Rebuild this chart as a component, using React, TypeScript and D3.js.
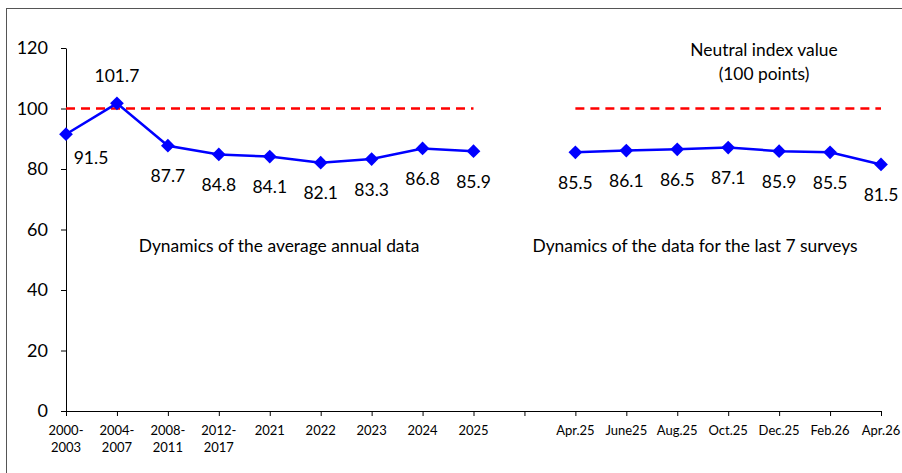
import React, { useEffect, useRef } from 'react';
import * as d3 from 'd3';

const annualLabels = ['2000-\n2003', '2004-\n2007', '2008-\n2011', '2012-\n2017', '2021', '2022', '2023', '2024', '2025'];
const annualValues = [91.5, 101.7, 87.7, 84.8, 84.1, 82.1, 83.3, 86.8, 85.9];
const surveyLabels = ['Apr.25', 'June25', 'Aug.25', 'Oct.25', 'Dec.25', 'Feb.26', 'Apr.26'];
const surveyValues = [85.5, 86.1, 86.5, 87.1, 85.9, 85.5, 81.5];
const yTicks = [0, 20, 40, 60, 80, 100, 120];
const neutralValue = 100;

const W = 902;
const H = 473;
const FONT = 'Lato, "Open Sans", sans-serif';

export default function App() {
  const svgRef = useRef<SVGSVGElement | null>(null);

  useEffect(() => {
    const svg = d3.select(svgRef.current);
    svg.selectAll('*').remove();

    // blank slot between the two groups
    const domain = [...annualLabels, ' ', ...surveyLabels];
    const x = d3.scalePoint<string>().domain(domain).range([66, 881]);
    const y = d3.scaleLinear().domain([0, 120]).range([411, 48]);

    // outer frame
    svg.append('rect')
      .attr('x', 6.5).attr('y', 8.5)
      .attr('width', W + 20).attr('height', H + 20)
      .attr('fill', 'none').attr('stroke', '#555').attr('stroke-width', 1);

    // y axis
    const yAxis = svg.append('g')
      .attr('transform', 'translate(66,0)')
      .call(d3.axisLeft(y).tickValues(yTicks).tickSize(5).tickPadding(13).tickSizeOuter(0));
    yAxis.select('.domain').attr('stroke', '#000');
    yAxis.selectAll('.tick line').attr('stroke', '#000');
    yAxis.selectAll('text')
      .attr('font-family', FONT).attr('font-size', 18).attr('fill', '#000');

    // x axis
    const xAxis = svg.append('g')
      .attr('transform', 'translate(0,411)')
      .call(d3.axisBottom(x).tickSize(5).tickSizeOuter(0).tickFormat(() => ''));
    xAxis.select('.domain').attr('stroke', '#000');
    xAxis.selectAll('.tick line').attr('stroke', '#000');
    xAxis.selectAll('.tick text').remove();

    const xl = svg.append('g')
      .attr('font-family', FONT).attr('font-size', 13).attr('fill', '#000')
      .attr('text-anchor', 'middle');
    domain.forEach(d => {
      const lines = d.split('\n');
      const t = xl.append('text').attr('x', x(d)!).attr('y', 435);
      lines.forEach((ln, i) => {
        t.append('tspan').attr('x', x(d)!).attr('dy', i === 0 ? 0 : 17).text(ln);
      });
    });

    // neutral lines
    const dash = (x1: number, x2: number) => svg.append('line')
      .attr('x1', x1).attr('x2', x2)
      .attr('y1', y(neutralValue)).attr('y2', y(neutralValue))
      .attr('stroke', '#ff0000').attr('stroke-width', 2.5)
      .attr('stroke-dasharray', '9,6');
    dash(x(annualLabels[0])!, x(annualLabels[annualLabels.length - 1])!);
    dash(x(surveyLabels[0])!, x(surveyLabels[surveyLabels.length - 1])!);

    const groups = [
      { labels: annualLabels, values: annualValues },
      { labels: surveyLabels, values: surveyValues },
    ];

    const line = d3.line<[string, number]>()
      .x(d => x(d[0])!)
      .y(d => y(d[1]));

    groups.forEach((g, gi) => {
      const pts: [string, number][] = g.labels.map((l, i) => [l, g.values[i]]);
      svg.append('path')
        .attr('d', line(pts)!)
        .attr('fill', 'none').attr('stroke', '#0000ff').attr('stroke-width', 2.5);
      svg.append('g').selectAll('path')
        .data(pts).join('path')
        .attr('d', d3.symbol().type(d3.symbolDiamond2).size(120)()!)
        .attr('transform', d => `translate(${x(d[0])},${y(d[1])})`)
        .attr('fill', '#0000ff');
      svg.append('g').selectAll('text')
        .data(pts).join('text')
        .attr('font-family', FONT).attr('font-size', 17.5).attr('fill', '#000')
        .attr('text-anchor', 'middle')
        .attr('dominant-baseline', 'central')
        .attr('x', (d, i) => x(d[0])! + (gi === 0 && i === 0 ? 25 : 0))
        .attr('y', (d, i) => {
          if (gi === 0 && i === 0) return y(d[1]) + 23;
          if (d[1] > neutralValue) return y(d[1]) - 28;
          return y(d[1]) + 30;
        })
        .text(d => d[1].toFixed(1));
    });

    const note = (tx: number, ty: number, s: string) => svg.append('text')
      .attr('x', tx).attr('y', ty)
      .attr('font-family', FONT).attr('font-size', 17.4).attr('fill', '#000')
      .attr('text-anchor', 'middle').attr('dominant-baseline', 'central')
      .text(s);
    note(279, 245, 'Dynamics of the average annual data');
    note(695, 245, 'Dynamics of the data for the last 7 surveys');
    note(764, 49, 'Neutral index value');
    note(764, 73, '(100 points)');
  }, []);

  return (
    <div style={{ position: 'absolute', left: 0, top: 0, width: W, height: H, background: '#fff' }}>
      <svg ref={svgRef} width={W} height={H} style={{ display: 'block' }} />
    </div>
  );
}
